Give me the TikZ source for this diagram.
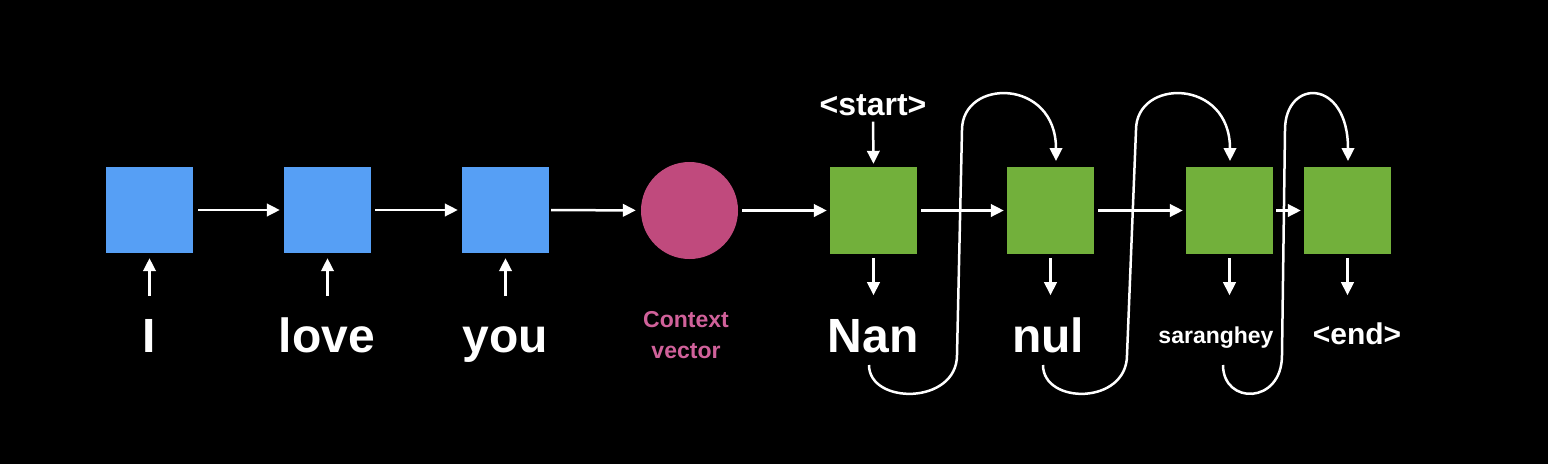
\documentclass[tikz,border=0pt]{standalone}
\usepackage{fontspec}
\setmainfont{Liberation Sans}
\usetikzlibrary{arrows.meta}
\definecolor{encblue}{HTML}{569FF5}
\definecolor{decgreen}{HTML}{72B03B}
\definecolor{ctxpink}{HTML}{C04A7D}
\definecolor{ctxtext}{HTML}{D0619A}
\tikzset{
  encbox/.style={draw=none,fill=encblue,minimum width=87pt,minimum height=86pt,inner sep=0pt},
  decbox/.style={draw=none,fill=decgreen,minimum width=87pt,minimum height=87pt,inner sep=0pt},
  ctxcirc/.style={circle,fill=ctxpink,minimum size=97pt,inner sep=0pt},
  conn/.style={draw=white,line width=2.5pt,-{Triangle[length=13pt,width=12.5pt]}},
  bigword/.style={text=white,font=\bfseries\fontsize{48}{50}\selectfont,anchor=base,inner sep=0pt},
  midword/.style={text=white,font=\bfseries\fontsize{30}{34}\selectfont,anchor=base,inner sep=0pt},
  startword/.style={text=white,font=\bfseries\fontsize{32}{34}\selectfont,anchor=base,inner sep=0pt},
  smallword/.style={text=white,font=\bfseries\fontsize{23}{26}\selectfont,anchor=base,inner sep=0pt},
  ctxlabel/.style={text=ctxtext,font=\bfseries\fontsize{23}{31}\selectfont,align=center,inner sep=0pt}
}
\begin{document}
\begin{tikzpicture}[x=1pt,y=-1pt]
\fill[black] (0,0) rectangle (1548,464);
\useasboundingbox (0,0) rectangle (1548,464);
% encoder
\node[encbox] (e1) at (149.5,210) {};
\node[encbox] (e2) at (327.5,210) {};
\node[encbox] (e3) at (505.5,210) {};
\node[ctxcirc] (cv) at (689.5,210.5) {};
% decoder
\node[decbox] (d1) at (873.5,210.5) {};
\node[decbox] (d2) at (1050.5,210.5) {};
\node[decbox] (d3) at (1229.5,210.5) {};
\node[decbox] (d4) at (1347.5,210.5) {};
% input words
\node[bigword] (wI) at (149,352) {I};
\node[bigword] (wlove) at (327,352) {love};
\node[bigword] (wyou) at (505,352) {you};
\node[ctxlabel] (ctx) at (686,335) {Context\\vector};
% output words
\node[bigword] (wnan) at (873,352) {Nan};
\node[bigword] (wnul) at (1048,352) {nul};
\node[smallword] (wsar) at (1216,343) {saranghey};
\node[midword] (wend) at (1357,344) {<end>};
\node[startword] (wstart) at (873,115) {<start>};
% horizontal connectors
\draw[conn,shorten <=5pt,shorten >=4pt] (e1) -- (e2);
\draw[conn,shorten <=4pt,shorten >=4pt] (e2) -- (e3);
\draw[conn,shorten <=2pt,shorten >=5pt] (e3) -- (cv);
\draw[conn,shorten <=4pt,shorten >=3pt] (cv) -- (d1);
\draw[conn,shorten <=4pt,shorten >=3pt] (d1) -- (d2);
\draw[conn,shorten <=4pt,shorten >=3pt] (d2) -- (d3);
\draw[conn,shorten <=3pt,shorten >=3pt] (d3) -- (d4);
% input arrows
\foreach \b in {e1,e2,e3}{
  \coordinate (\b in) at ([yshift=-43pt]\b.south);
  \draw[conn,shorten >=5pt] (\b in) -- (\b.south);
}
% output arrows
\foreach \b in {d1,d2,d3,d4}{
  \coordinate (\b out) at ([yshift=-41pt]\b.south);
  \draw[conn,shorten <=4pt] (\b.south) -- (\b out);
}
% start arrow
\draw[conn,shorten <=6pt,shorten >=3pt] (wstart.south) -- (d1.north);
% feedback loops
\coordinate (f1a) at (869,365);
\coordinate (f1b) at (1056,161);
\draw[conn] (f1a) .. controls (869,405) and (957,405) .. (957,355)
  -- (962,130) .. controls (962,78) and (1056,78) .. (f1b);
\coordinate (f2a) at (1043,365);
\coordinate (f2b) at (1230,161);
\draw[conn] (f2a) .. controls (1043,405) and (1127,405) .. (1127,355)
  -- (1136,130) .. controls (1136,78) and (1230,78) .. (f2b);
\coordinate (f3a) at (1223,365);
\coordinate (f3b) at (1348,161);
\draw[conn] (f3a) .. controls (1223,405) and (1282,405) .. (1282,355)
  -- (1285,130) .. controls (1285,78) and (1348,78) .. (f3b);
\end{tikzpicture}
\end{document}
